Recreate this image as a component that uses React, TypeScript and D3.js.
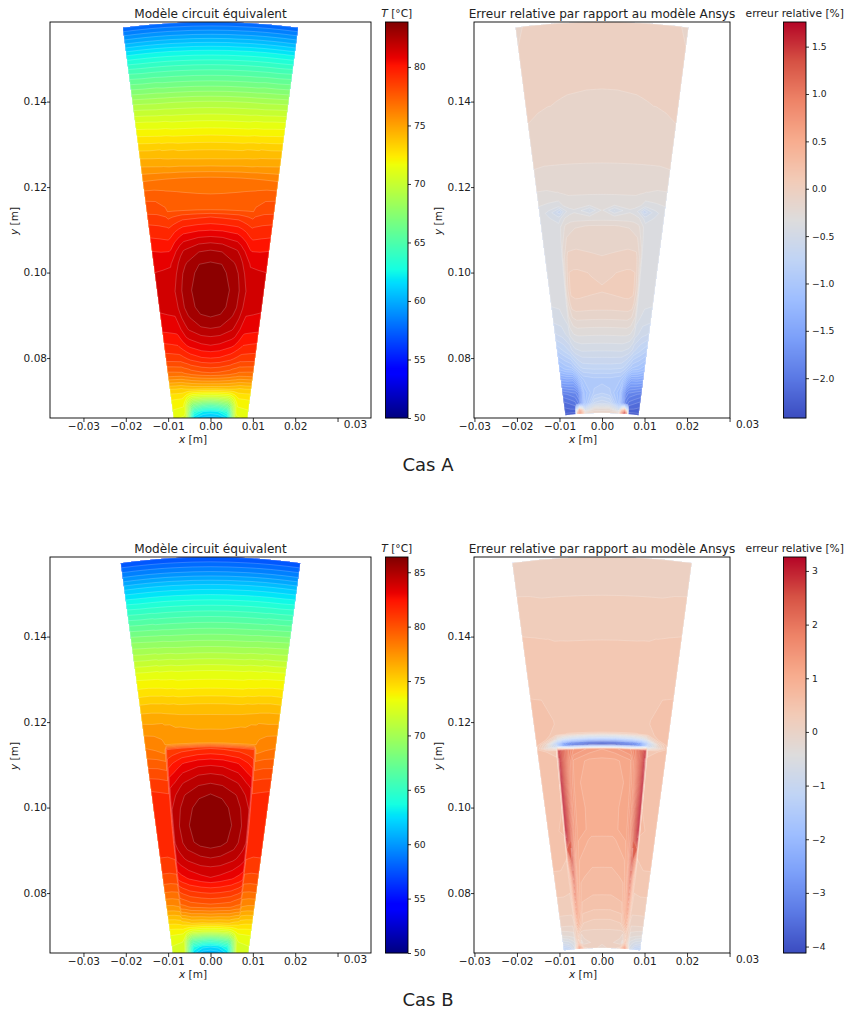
import React from 'react';
import * as d3 from 'd3';

// fractions of the half width of the wedge, from the axis of symmetry out to the edge
const sCols = [0, 0.2, 0.45, 0.52, 0.6, 0.68, 0.71, 0.85, 1];

// values: one row per radius, one value per sCols entry
const tempARadius = [0.1586, 0.155, 0.152, 0.148, 0.144, 0.14, 0.136, 0.133, 0.129, 0.1256, 0.1223, 0.1184, 0.116, 0.1147, 0.113, 0.1099, 0.107, 0.1052, 0.1025, 0.1, 0.096, 0.092, 0.0896, 0.087, 0.085, 0.083, 0.08, 0.0765, 0.073, 0.071, 0.069, 0.0675, 0.0655];
const tempA = [
  [57.5, 57.5, 57.5, 57.5, 57.5, 57.5, 57.5, 57.5, 57.5],
  [60, 60, 60, 60, 60, 60, 60, 60, 60],
  [62.2, 62.2, 62.2, 62.2, 62.2, 62.2, 62.2, 62.2, 62.2],
  [64.6, 64.6, 64.6, 64.6, 64.6, 64.6, 64.6, 64.6, 64.7],
  [66.7, 66.7, 66.7, 66.7, 66.7, 66.8, 66.8, 66.8, 66.9],
  [69, 69, 69, 69, 69, 69, 69, 69.1, 69.2],
  [70.8, 70.8, 70.8, 70.8, 70.9, 70.9, 70.9, 71, 71.1],
  [72, 72, 72, 72, 72.1, 72.1, 72.1, 72.2, 72.3],
  [73.6, 73.6, 73.6, 73.7, 73.7, 73.7, 73.8, 73.8, 73.9],
  [74.7, 74.7, 74.8, 74.8, 74.8, 74.9, 74.9, 75, 75.1],
  [76.4, 76.4, 76.4, 76.4, 76.4, 76.4, 76.4, 76.4, 76.4],
  [77.07, 77.1, 77.2, 77.25, 77.3, 77.35, 77.4, 77.55, 77.6],
  [77.4, 77.4, 77.4, 77.42, 77.45, 77.5, 77.7, 78, 78.1],
  [77.75, 77.75, 77.75, 77.75, 77.75, 77.75, 78, 78.3, 78.4],
  [79.1, 79, 78.9, 78.75, 78.6, 78.4, 78.6, 78.8, 78.9],
  [80.46, 80.4, 80.2, 80, 79.7, 79.4, 79.4, 79.5, 79.6],
  [81.8, 81.7, 81.3, 81, 80.6, 80.1, 80, 80.1, 80.2],
  [82.5, 82.4, 81.9, 81.6, 81.1, 80.6, 80.5, 80.5, 80.6],
  [83.16, 83.1, 82.4, 82.1, 81.6, 81.2, 81.05, 81, 81],
  [83.5, 83.4, 82.7, 82.4, 81.9, 81.45, 81.3, 81.25, 81.2],
  [83.75, 83.6, 82.9, 82.6, 82.15, 81.75, 81.55, 81.45, 81.35],
  [83.55, 83.45, 82.75, 82.45, 82, 81.55, 81.4, 81.3, 81.2],
  [83.16, 83.05, 82.4, 82.1, 81.7, 81.2, 81.05, 81, 80.95],
  [82.5, 82.4, 81.9, 81.6, 81.2, 80.8, 80.7, 80.6, 80.5],
  [81.8, 81.7, 81.3, 81.1, 80.7, 80.3, 80.2, 80.1, 80],
  [81.13, 81, 80.6, 80.4, 80.1, 79.8, 79.7, 79.6, 79.5],
  [79.78, 79.7, 79.3, 79.1, 78.9, 78.7, 78.7, 78.6, 78.5],
  [77.7, 77.6, 77.3, 77.1, 77, 76.8, 76.8, 76.7, 76.6],
  [74, 74, 73.9, 73.8, 73.7, 73.6, 73.5, 73.5, 73.4],
  [70.5, 70.5, 70.7, 71, 71.6, 72.2, 72.4, 72.4, 72.4],
  [65.5, 65.8, 66.8, 67.8, 69.5, 71.3, 71.7, 71.8, 71.9],
  [62, 62.2, 63.5, 65.5, 68.5, 71, 71.2, 71.2, 71.3],
  [60, 60.2, 61, 63, 67, 70.4, 70.6, 70.8, 71],
];

const tempBRadius = [0.1586, 0.155, 0.152, 0.148, 0.144, 0.14, 0.136, 0.132, 0.128, 0.124, 0.12, 0.1165, 0.1152, 0.114, 0.1106, 0.108, 0.1057, 0.1032, 0.1, 0.096, 0.092, 0.0905, 0.0882, 0.0861, 0.0837, 0.081, 0.077, 0.073, 0.071, 0.069, 0.0675, 0.0655];
const tempB = [
  [57.3, 57.3, 57.3, 57.3, 57.3, 57.3, 57.3, 57.3, 57.3],
  [59.6, 59.6, 59.6, 59.6, 59.6, 59.6, 59.6, 59.6, 59.6],
  [61.8, 61.8, 61.8, 61.8, 61.8, 61.8, 61.8, 61.8, 61.8],
  [64.2, 64.2, 64.2, 64.2, 64.2, 64.2, 64.2, 64.2, 64.3],
  [66.4, 66.4, 66.4, 66.4, 66.4, 66.4, 66.5, 66.5, 66.6],
  [68.5, 68.5, 68.5, 68.5, 68.6, 68.6, 68.6, 68.7, 68.8],
  [70.5, 70.5, 70.5, 70.6, 70.6, 70.6, 70.7, 70.7, 70.8],
  [72.6, 72.6, 72.6, 72.7, 72.7, 72.7, 72.8, 72.8, 72.9],
  [74, 74, 74, 74.1, 74.1, 74.2, 74.2, 74.3, 74.3],
  [75.6, 75.6, 75.6, 75.7, 75.7, 75.8, 75.8, 75.9, 75.9],
  [76.7, 76.7, 76.8, 76.8, 76.9, 76.9, 77, 77, 77.1],
  [77.2, 77.2, 77.3, 77.3, 77.4, 77.5, 77.6, 77.9, 78],
  [77.5, 77.5, 77.5, 77.5, 77.6, 77.6, 77.7, 78.1, 78.3],
  [81.2, 81.1, 80.9, 80.8, 80.7, 80.6, 78, 78.4, 78.6],
  [83.2, 83.1, 82.7, 82.4, 82.1, 81.7, 79.4, 79.6, 79.7],
  [84.2, 84.1, 83.6, 83.3, 82.9, 82.6, 80.2, 80.4, 80.5],
  [84.94, 84.8, 84.3, 84, 83.6, 83.3, 80.9, 81, 81.1],
  [85.67, 85.5, 84.9, 84.6, 84.2, 83.9, 81.4, 81.5, 81.6],
  [86.1, 86, 85.3, 85, 84.6, 84.2, 81.7, 81.8, 81.9],
  [86.38, 86.2, 85.5, 85.2, 84.8, 84.3, 82, 82, 82],
  [86.1, 86, 85.3, 85, 84.6, 84.2, 81.8, 81.8, 81.8],
  [85.67, 85.5, 85, 84.7, 84.4, 84, 81.6, 81.5, 81.5],
  [84.94, 84.8, 84.4, 84.2, 83.9, 83.6, 81.3, 81.2, 81.2],
  [84.2, 84.1, 83.7, 83.5, 83.3, 83, 80.9, 80.8, 80.8],
  [83.5, 83.3, 82.9, 82.7, 82.5, 82.2, 80.3, 80.2, 80.2],
  [81.9, 81.8, 81.5, 81.3, 81.1, 80.8, 79.3, 79.2, 79.2],
  [79.6, 79.5, 79.3, 79.1, 78.9, 78.8, 77.6, 77.4, 77.3],
  [75.5, 75.4, 75.4, 75.2, 75, 74.9, 74.8, 74.6, 74.5],
  [72, 72, 72.2, 72.5, 73, 73.4, 73.4, 73.4, 73.4],
  [66, 66.3, 67, 68, 70, 72.4, 72.6, 72.7, 72.8],
  [62.5, 62.7, 64, 66, 69, 72.2, 72.3, 72.3, 72.4],
  [60.5, 60.7, 62, 64, 68, 71.7, 71.8, 71.8, 71],
];

const errARadius = [0.1586, 0.15, 0.143, 0.136, 0.1256, 0.119, 0.116, 0.1146, 0.113, 0.111, 0.108, 0.104, 0.1, 0.096, 0.093, 0.09, 0.086, 0.082, 0.078, 0.075, 0.072, 0.0695, 0.068, 0.0672];
const errA = [
  [-0.04, -0.04, -0.04, -0.04, -0.04, -0.04, -0.05, -0.06, -0.1],
  [-0.05, -0.05, -0.05, -0.05, -0.05, -0.05, -0.05, -0.05, -0.06],
  [-0.079, -0.078, -0.074, -0.072, -0.07, -0.068, -0.068, -0.066, -0.062],
  [-0.12, -0.115, -0.105, -0.1, -0.095, -0.09, -0.09, -0.085, -0.079],
  [-0.163, -0.163, -0.163, -0.163, -0.163, -0.163, -0.163, -0.163, -0.155],
  [-0.23, -0.23, -0.23, -0.23, -0.24, -0.25, -0.25, -0.26, -0.26],
  [-0.3, -0.3, -0.3, -0.3, -0.32, -0.38, -0.38, -0.36, -0.34],
  [-0.32, -0.5, -0.34, -0.36, -0.45, -0.65, -0.6, -0.45, -0.36],
  [-0.3, -0.3, -0.3, -0.3, -0.32, -0.42, -0.45, -0.4, -0.35],
  [-0.16, -0.16, -0.17, -0.19, -0.22, -0.32, -0.38, -0.38, -0.36],
  [-0.12, -0.12, -0.12, -0.13, -0.15, -0.28, -0.36, -0.38, -0.38],
  [-0.08, -0.07, -0.05, -0.05, -0.05, -0.2, -0.36, -0.38, -0.38],
  [-0.01, 0, 0.02, 0.02, 0.01, -0.18, -0.36, -0.38, -0.38],
  [0.01, 0.02, 0.03, 0.03, 0.02, -0.15, -0.36, -0.38, -0.38],
  [-0.02, -0.02, -0.01, -0.01, -0.02, -0.2, -0.36, -0.4, -0.41],
  [-0.12, -0.12, -0.12, -0.12, -0.15, -0.25, -0.38, -0.44, -0.46],
  [-0.3, -0.3, -0.3, -0.3, -0.32, -0.38, -0.45, -0.55, -0.6],
  [-0.48, -0.48, -0.48, -0.5, -0.52, -0.6, -0.65, -0.75, -0.85],
  [-0.7, -0.7, -0.72, -0.76, -0.85, -0.95, -1, -1.05, -1.15],
  [-0.95, -0.95, -1, -1.1, -1.3, -1.45, -1.5, -1.5, -1.55],
  [-0.85, -0.9, -1.15, -1.5, -1.75, -1.85, -1.85, -1.9, -1.95],
  [-0.6, -0.65, -1.1, -1.5, -1.9, -2, -2.05, -2.1, -2.15],
  [-0.2, -0.2, -0.5, 0.1, 0.8, -0.4, -2.2, -2.2, -2.2],
  [-0.1, -0.1, -0.1, 0.9, 1.7, 1, -2.3, -2.3, -2.3],
];
// the hot spot at the bottom is weaker on the left of the axis
const errABottomLeft = [-0.1, -0.1, -0.1, 0.4, 0.8, 0.4, -2.3, -2.3, -2.3];

const errBRadius = [0.1586, 0.1497, 0.1392, 0.128, 0.12, 0.1175, 0.1165, 0.1155, 0.1147, 0.1138, 0.111, 0.106, 0.1, 0.095, 0.0925, 0.088, 0.084, 0.08, 0.076, 0.073, 0.0705, 0.0685, 0.0672];
const errB = [
  [0.1, 0.1, 0.1, 0.1, 0.1, 0.1, 0.1, 0.1, 0.08],
  [0.16, 0.16, 0.16, 0.16, 0.16, 0.16, 0.16, 0.165, 0.17],
  [0.308, 0.308, 0.308, 0.31, 0.31, 0.32, 0.32, 0.33, 0.34],
  [0.4, 0.4, 0.4, 0.4, 0.41, 0.41, 0.42, 0.44, 0.45],
  [0.42, 0.42, 0.42, 0.42, 0.43, 0.44, 0.46, 0.5, 0.48],
  [0.3, 0.3, 0.3, 0.3, 0.32, 0.35, 0.4, 0.5, 0.55],
  [-1, -1, -0.9, -0.8, -0.7, -0.4, -0.1, 0.45, 0.55],
  [-3.5, -3.4, -3, -2.8, -2.4, -1.6, -1.2, 0, 0.5],
  [-4.1, -4, -3.5, -3.1, -2.5, -1.4, -0.9, -0.2, 0.45],
  [1.2, 1.3, 1.5, 1.8, 2.3, 2.9, 0.4, 0.45, 0.48],
  [1, 1, 1.15, 1.6, 2.3, 3, 0.5, 0.52, 0.52],
  [0.95, 0.95, 1.1, 1.5, 2.3, 3.1, 0.55, 0.55, 0.55],
  [1, 1, 1.12, 1.5, 2.4, 3.1, 0.6, 0.56, 0.55],
  [1, 1, 1.12, 1.5, 2.4, 3.1, 0.7, 0.55, 0.55],
  [0.85, 0.85, 1.05, 1.4, 2.3, 2.9, 0.5, 0.53, 0.52],
  [0.8, 0.8, 0.9, 1.2, 2.5, 1.5, 0.45, 0.5, 0.5],
  [0.7, 0.7, 0.78, 1.1, 2.3, 0.7, 0.4, 0.42, 0.42],
  [0.62, 0.62, 0.7, 1, 1.9, 0.5, 0.3, 0.32, 0.32],
  [0.45, 0.45, 0.5, 0.9, 1.4, 0.3, 0.2, 0.2, 0.2],
  [0.25, 0.25, 0.3, 0.6, 0.9, 0.1, 0.05, 0.05, 0.05],
  [0.1, 0.1, 0.08, 0, 0.3, 0.1, -0.2, -0.25, -0.3],
  [0.05, 0.05, -0.05, -0.2, 0.6, -0.2, -0.5, -0.7, -0.8],
  [-0.05, 0.05, 0.2, 1, 1.9, 0.3, -0.6, -1.1, -1.3],
];

const xTicks = [-0.03, -0.02, -0.01, 0, 0.01, 0.02];
const yTicks = [0.08, 0.1, 0.12, 0.14];
const tempTicksA = [50, 55, 60, 65, 70, 75, 80];
const tempTicksB = [50, 55, 60, 65, 70, 75, 80, 85];
const errTicksA = [-2, -1.5, -1, -0.5, 0, 0.5, 1, 1.5];
const errTicksB = [-4, -3, -2, -1, 0, 1, 2, 3];

const jet = (f: number) => {
  const ramp = (dom: number[], rng: number[]) => d3.scaleLinear().domain(dom).range(rng).clamp(true)(f);
  const r = ramp([0, 0.35, 0.66, 0.89, 1], [0, 0, 255, 255, 128]);
  const g = ramp([0, 0.125, 0.375, 0.64, 0.91, 1], [0, 0, 255, 255, 0, 0]);
  const b = ramp([0, 0.11, 0.34, 0.65, 1], [128, 255, 255, 0, 0]);
  return `rgb(${r},${g},${b})`;
};
const coolwarm = d3.scaleLinear<string>()
  .domain(d3.range(0, 1.01, 0.1))
  .range(['#3b4cc0', '#5a78e4', '#7b9ff9', '#9ebeff', '#c0d4f5', '#dddcdc', '#f2cbb7', '#f7ac8e', '#ee8468', '#d65244', '#b40426']);

const levelCount = 50;
const font = '"DejaVu Sans"';

// index space of d3.contours -> physical value, values sit at i + 0.5 and the border clamps
const indexScale = (vals: number[]) => d3.scaleLinear()
  .domain([0, ...vals.map((_, i) => i + 0.5), vals.length])
  .range([vals[0], ...vals, vals[vals.length - 1]]);

const drawField = (g: any, o: any) => {
  const { radius, rows, tanHalf, x, y, vmin, vmax, color, leftBottom, clipId } = o;
  const full = [...sCols.slice(1).reverse().map((s: number) => -s), ...sCols];
  const values: number[] = [];
  rows.forEach((row: number[], i: number) => {
    const left = leftBottom && i === rows.length - 1 ? leftBottom : row;
    values.push(...left.slice(1).reverse(), ...row);
  });
  const sOf = indexScale(full);
  const rOf = indexScale(radius);
  const half = Math.atan(tanHalf);
  const project = d3.geoTransform({
    point(i: number, j: number) {
      const a = sOf(i) * half;
      const r = rOf(j);
      (this as any).stream.point(x(r * Math.sin(a)), y(r * Math.cos(a)));
    },
  });
  const path = d3.geoPath(project);
  const step = (vmax - vmin) / levelCount;
  const levels = d3.range(levelCount).map((k) => vmin + k * step);
  const contours = d3.contours().size([full.length, radius.length]).smooth(true).thresholds(levels)(values);
  g.append('g')
    .attr('clip-path', `url(#${clipId})`)
    .selectAll('path')
    .data(contours)
    .enter()
    .append('path')
    .attr('d', path as any)
    .attr('fill', (d: any) => color((d.value + step / 2 - vmin) / (vmax - vmin)))
    .attr('stroke', 'rgba(255,255,255,0.38)')
    .attr('stroke-width', 0.5);
};

const styleAxis = (sel: any, size: number) => {
  sel.select('.domain').remove();
  sel.selectAll('line').attr('stroke', '#000').attr('stroke-width', 0.8);
  sel.selectAll('text').attr('font-family', font).attr('font-size', size).attr('fill', '#222');
};

const drawPanel = (root: any, o: any) => {
  const { top, left, right, cbLeft, title, cbTitle, cbTicks, cbFormat, vmin, vmax, color, labelX, labelY, id } = o;
  const bottom = top + 396;
  const x = d3.scaleLinear().domain(o.xDomain).range([left, right]);
  const y = d3.scaleLinear().domain([0.06598, 0.15862]).range([bottom, top]);

  root.append('clipPath').attr('id', id).append('rect')
    .attr('x', left).attr('y', top).attr('width', right - left).attr('height', bottom - top);
  drawField(root, { ...o, x, y, clipId: id });

  root.append('rect').attr('x', left).attr('y', top).attr('width', right - left).attr('height', bottom - top)
    .attr('fill', 'none').attr('stroke', '#000').attr('stroke-width', 0.9);

  const ax = root.append('g').attr('transform', `translate(0,${bottom})`)
    .call(d3.axisBottom(x).tickValues([...xTicks, 0.03]).tickSize(4).tickPadding(1)
      .tickFormat((d: any) => (d === 0.03 ? '' : d3.format('.2f')(d))));
  styleAxis(ax, 10.5);
  // the 0.03 label sits apart from its tick in the original
  root.append('text').attr('x', x(0.03) + 18).attr('y', bottom + 6.5).attr('dy', '0.32em')
    .attr('text-anchor', 'middle').attr('font-family', font).attr('font-size', 10.5).attr('fill', '#222').text('0.03');

  const ay = root.append('g').attr('transform', `translate(${left},0)`)
    .call(d3.axisLeft(y).tickValues(yTicks).tickSize(3).tickPadding(0).tickFormat(d3.format('.2f') as any));
  styleAxis(ay, 10.5);

  root.append('text').attr('x', (left + right) / 2).attr('y', top - 4).attr('text-anchor', 'middle')
    .attr('font-family', font).attr('font-size', 12.1).attr('fill', '#222').text(title);

  const axisLabel = (sel: any, name: string) => {
    sel.attr('font-family', font).attr('font-size', 10.5).attr('fill', '#222').attr('text-anchor', 'middle');
    sel.append('tspan').attr('font-style', 'italic').text(name);
    sel.append('tspan').text(' [m]');
  };
  root.append('text').attr('x', labelX).attr('y', bottom + 25).call(axisLabel, 'x');
  root.append('text').attr('transform', `translate(${labelY},${top + 199}) rotate(-90)`).call(axisLabel, 'y');

  // colour bar
  const cbWidth = 22.5;
  const cb = d3.scaleLinear().domain([vmin, vmax]).range([bottom, top]);
  const steps = d3.range(top, bottom);
  root.append('g').selectAll('rect').data(steps).enter().append('rect')
    .attr('x', cbLeft).attr('y', (d: number) => d).attr('width', cbWidth).attr('height', 1.2)
    .attr('fill', (d: number) => color((cb.invert(d + 0.5) - vmin) / (vmax - vmin)));
  root.append('rect').attr('x', cbLeft).attr('y', top).attr('width', cbWidth).attr('height', bottom - top)
    .attr('fill', 'none').attr('stroke', '#000').attr('stroke-width', 0.9);
  const ac = root.append('g').attr('transform', `translate(${cbLeft + cbWidth},0)`)
    .call(d3.axisRight(cb).tickValues(cbTicks).tickSize(3).tickPadding(3).tickFormat(cbFormat));
  styleAxis(ac, 9.2);

  const cbt = root.append('text').attr('x', cbLeft + cbWidth / 2).attr('y', top - 5).attr('text-anchor', 'middle')
    .attr('font-family', font).attr('font-size', 10.7).attr('fill', '#222');
  if (cbTitle === 'T') {
    cbt.append('tspan').attr('font-style', 'italic').text('T');
    cbt.append('tspan').text(' [°C]');
  } else {
    cbt.text(cbTitle);
  }
};

const minusFormat = (spec: string) => (d: any) => d3.format(spec)(d).replace('-', '−');

const App = () => {
  const ref = React.useRef<SVGSVGElement>(null);

  React.useEffect(() => {
    const root = d3.select(ref.current);
    root.selectAll('*').remove();

    const xLeft = [-0.0379, 0.0379];
    const xRight = [-0.0301, 0.0301];
    const leftBase = { left: 50, right: 371, cbLeft: 385.5, xDomain: xLeft, labelX: 193, labelY: 18, title: 'Modèle circuit équivalent', cbTitle: 'T', color: jet, cbFormat: d3.format('d') };
    const rightBase = { left: 474, right: 730, cbLeft: 783.5, xDomain: xRight, labelX: 583, labelY: 442, title: 'Erreur relative par rapport au modèle Ansys', cbTitle: 'erreur relative [%]', color: (f: number) => coolwarm(f) };

    drawPanel(root, { ...leftBase, id: 'a1', top: 22, radius: tempARadius, rows: tempA, tanHalf: 0.1315, vmin: 50, vmax: 83.84, cbTicks: tempTicksA });
    drawPanel(root, { ...rightBase, id: 'a2', top: 22, radius: errARadius, rows: errA, leftBottom: errABottomLeft, tanHalf: 0.129, vmin: -2.42, vmax: 1.76, cbTicks: errTicksA, cbFormat: minusFormat('.1f') });
    drawPanel(root, { ...leftBase, id: 'b1', top: 557, radius: tempBRadius, rows: tempB, tanHalf: 0.1347, vmin: 50, vmax: 86.4, cbTicks: tempTicksB });
    drawPanel(root, { ...rightBase, id: 'b2', top: 557, radius: errBRadius, rows: errB, tanHalf: 0.134, vmin: -4.12, vmax: 3.26, cbTicks: errTicksB, cbFormat: minusFormat('d') });

    root.append('text').attr('x', 428).attr('y', 471).attr('text-anchor', 'middle')
      .attr('font-family', font).attr('font-size', 18).attr('fill', '#222').text('Cas A');
    root.append('text').attr('x', 428).attr('y', 1006).attr('text-anchor', 'middle')
      .attr('font-family', font).attr('font-size', 18).attr('fill', '#222').text('Cas B');
  }, []);

  return <svg ref={ref} width={846} height={1014} style={{ position: 'absolute', left: 0, top: 0 }} />;
};

export default App;
